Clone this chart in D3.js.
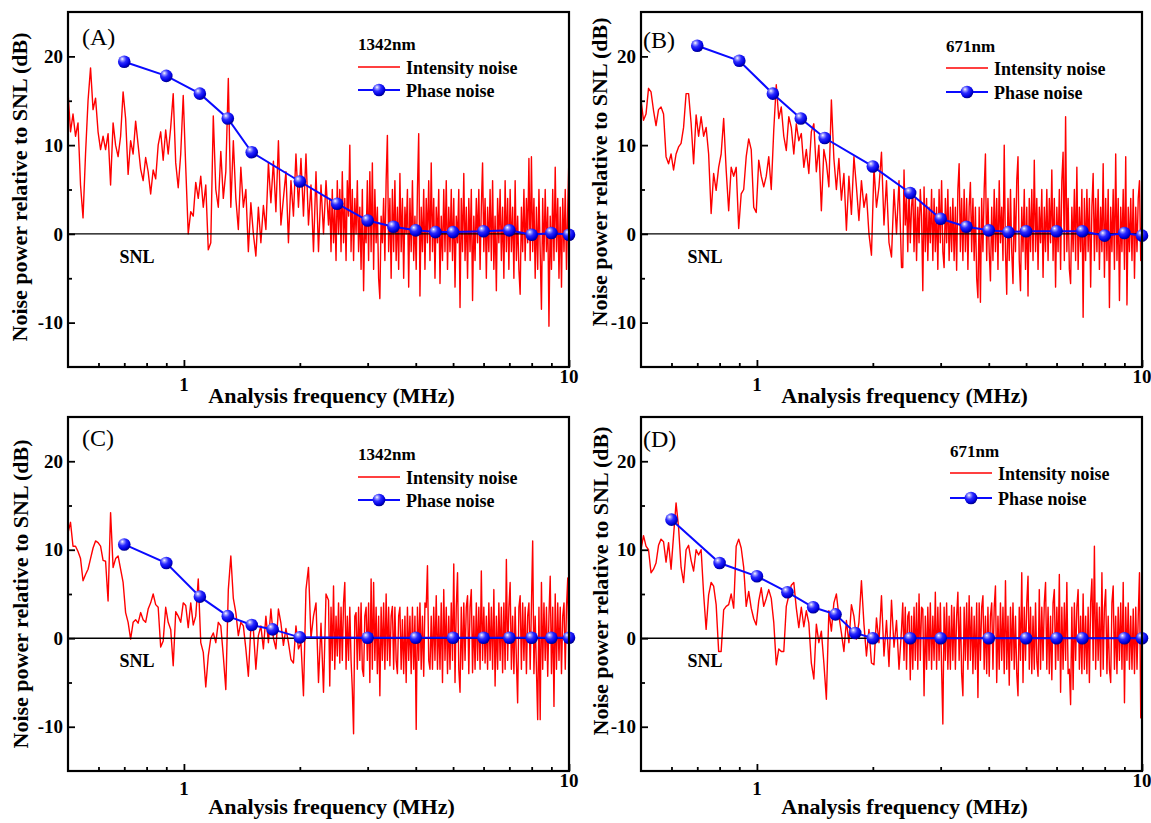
<!DOCTYPE html>
<html>
<head>
<meta charset="utf-8">
<script src="https://cdn.jsdelivr.net/npm/d3@7"></script>
<style>
  html, body { margin: 0; padding: 0; background: #fff; }
  svg text { font-family: "Times New Roman", "Liberation Serif", serif; }
</style>
</head>
<body>
<svg id="chart" width="1151" height="823"></svg>
<script>
// Noise spectra of the 1342 nm / 671 nm lasers, four panels (A)-(D).
// Intensity noise at evenly spaced positions along the log axis:
// every 2nd position below ~2.3 MHz, every position above it (denser trace there).

const F_MIN = 0.5, F_MAX = 10;
const Y_MIN = -15, Y_MAX = 25;
const READ_POSITIONS = 401;
const SPLIT = 209; // first read position of the dense part

const yMajorTicks = [-10, 0, 10, 20];
const yMinorTicks = [-5, 5, 15];
const xMajorTicks = [1, 10];
const xMinorTicks = [0.6, 0.7, 0.8, 0.9, 2, 3, 4, 5, 6, 7, 8, 9];

// read positions (MHz)
const readFreqs = d3.range(READ_POSITIONS).map(i => F_MIN * Math.pow(F_MAX / F_MIN, i / (READ_POSITIONS - 1)));

// ---- (A) 1342nm ----
const intensityA_low = [
  16, 11.5, 13.5, 11, 12.5, 5.5, 1.8, 9, 15, 18.7, 14, 15.3, 11.5, 9.5, 11, 9.5, 11.3, 5.5, 12.5, 10,
  8.7, 11, 16, 13, 6.7, 10.5, 9, 12.7, 10, 7.3, 6, 8.6, 7, 4.5, 7.2, 6.2, 10, 11.5, 8.3, 11.7,
  9, 12, 15.8, 8, 5.2, 9, 15.6, 7.5, 0, 2.5, 2, 5.8, 4, 6.5, 3, 5.5, -1.8, -1, 13.3, 5,
  3, 9.3, 4, 7, 17.5, 3, 10.5, 4, 0.5, 7.5, 3, 5, -2, 3.5, 0, -2.5, 3, -1, 3.2, 0.5,
  8, 3.5, 8.2, 2.5, 10.5, 1, 4, 7, -1, 6, 2, 9, 3, 8.5, 2, 9, 1, 5.5, -2, 7,
  -2, 5.5, 0, 6, 1
];
const intensityA_high = [
  4, -2, 5, -1, 3, -3, 6, 0,      5, -2, 7, -1, 4, -3, 6, 2,
  10, -2, 5, -3, 4, 0, 6, -2,     3, -4, 5, -6.4, 2, -1, 6, -3,
  7, -2, 8, -4, 5, -1, 3, -5,     -7.3, 2, -1, 4, -3, 6, 11.1, -2,
  4, -5, 5, -2, 6, -3, 3, -4,     6.8, -2, 4, -5, 3, 0, 5, -6,
  4, -2, 6, -3, 2, -4, 5, 11.3,   -7, 3, -2, 5, -4, 4, -1, 6,
  -3, 8, -2, 4, -5, 3, -1, 5,     -5.6, 2, -3, 5, -2, 6, -4, 3,
  -2, 5, -3, 4, -6, 2, -1, 5,     -8.3, 4, -2, 6.8, -3, 3, -5, 4,
  -2, 5, -7.5, 2, -3, 4, -1, 5,   -4, 3, 8, -2, 4, -5, 3, -2,
  5, -3, 6, -4, 2, -6.4, 4, -1,   5, -3, 3, -5, 6, -2, 4, -4,
  5, -2, 3, -5, 6, -3, 2, -4,     -6.8, 3, -2, 5, -3, 4, -1, 8.5,
  -3, 8.7, -2, 4, -5, 3, -4, 5,   -2, -8.5, 4, -3, 5, -2, 3, -10.4,
  2, -4, 5, -3, 7.5, -2, 4, -5,   3, -6, 4, -2, 5, -4, 3, 9
];
const phaseFreqA = [0.7, 0.9, 1.1, 1.3, 1.5, 2, 2.5, 3, 3.5, 4, 4.5, 5, 6, 7, 8, 9, 10];
const phaseA = [19.4, 17.8, 15.8, 13.0, 9.2, 5.9, 3.4, 1.5, 0.8, 0.4, 0.2, 0.2, 0.3, 0.4, -0.1, 0.1, -0.1];

// ---- (B) 671nm ----
const intensityB_low = [
  15.1, 12.8, 13.5, 16.4, 16, 13.9, 12.2, 14, 14.3, 13.5, 8.7, 7.9, 9, 7.2, 9, 9.8, 10.2, 12, 15.8, 15.8,
  12.5, 7.9, 13.4, 11, 13.2, 11, 12, 9, 2.3, 6.8, 4.9, 7.5, 9, 13, 7.2, 2.6, 7.5, 6.5, 7.5, 0.6,
  4.5, 5, 8.7, 10.7, 9.5, 3, 2.4, 8.3, 6.5, 5.3, 6.5, 8.7, 5, 11.7, 16.8, 13, 14.3, 11, 9.4, 13.2,
  12, 9, 12.4, 10.5, 11.3, 7.5, 9.5, 6.8, 11.5, 12.4, 7, 10, 2.6, 9.5, 8, 5.3, 15.1, 8.5, 5, 8.5,
  3.8, 6.8, 0.4, 6.5, 2.2, 8.7, 5.3, 1.5, 6, 3, 4.5, 0, -2.4, 7.5, 3, 5.3, 9.2, 1, 6, -1,
  -2.6, 5, 0, 6, -3.8
];
const intensityB_high = [
  -3.8, 7.2, 1, 4, -2, 5, -1, 3,  5, -2, 4, -3, 3, -1, 5, 2,
  -6.4, 5.3, -2, 4, -3, 3, -1, 5, -3, 4, -2, 3, -4, 5, -1, 6,
  -2, -3.8, 4, -1, 5, -3, 3, -2,  4, -3, 3, -4.1, 5, 7.9, -2, 4,
  -3, 5, -2, 4, -4, 3, 5.8, -2,   4, -3, 3, -5, -7.2, 3, -7.7, 4,
  -2, 5, 9, -3, 4, -2, -5.3, 3,   -3, 5, -2, 4, -4, 6, -1, 3,
  -3, 10, -2, -6.8, 4, -3, 5, -2, -5.6, 4, -2, 6, 8.7, -3, -6.4, 3,
  -2, 5, -4, 3, -7, 4, -2, 5,     -3, 8.3, -2, 4, -4, 3, -1, 5,
  -4.9, 3, -2, 5, -3, 4, -1, 7.2, -3, 4, -6, 3, -2, 5, -4, 6,
  9.2, -3, 13.2, -2, 4, -4, -5.6, 3, -2, 5, -3, 7.5, -4, 3, -2, 5,
  -9.4, 4, -3, 5, -2, 4, -6, 3,   6.8, -3, 4, -2, 5, -4, 3, -2,
  7.9, -4.9, 4, -3, 5, -8.3, 3, -2, 5, -4, 9, -3, 4, -7.5, 3, -2,
  5, -4, 8.7, -8, 3, -2, 4, -3,   5, -5, 3, -2, 4, 6, -3, 2
];
const phaseFreqB = [0.7, 0.9, 1.1, 1.3, 1.5, 2, 2.5, 3, 3.5, 4, 4.5, 5, 6, 7, 8, 9, 10];
const phaseB = [21.2, 19.5, 15.8, 13.0, 10.8, 7.6, 4.6, 1.7, 0.8, 0.4, 0.2, 0.3, 0.3, 0.3, -0.2, 0.1, -0.2];

// ---- (C) 1342nm ----
const intensityC_low = [
  11.9, 13.1, 10.4, 10.4, 9.8, 9, 6.5, 7.2, 7.8, 9, 10.2, 11, 10.8, 10.4, 8.8, 8.7, 4.2, 14.2, 8, 9,
  9.3, 7.8, 6.3, 2.9, 1.8, -0.1, 1.8, 2.1, 1.7, 2.9, 2.1, 1.8, 3.3, 4, 5, 3.8, 3.5, -1, -0.3, 3.5,
  1.8, 1, -3.1, 3, 2.5, 1.8, 4, 3.7, 1.2, 4, 1.5, 2.5, 6.7, -0.5, -1.6, -5.5, -2, 0, 0.6, -0.5,
  1.8, 1.4, -2, -5.8, 5.5, 9.3, 4.5, 2.9, 0.3, 1.8, 1.4, -1.2, -4.3, 1.3, 1, -3.5, 0.3, 1.4, -1.2, 2.5,
  -0.5, 3.3, 0, -1.2, 3.3, 1.7, -0.8, 1.1, -0.5, -2.4, -2.8, 1.4, -1.2, -0.5, -6.5, 5.5, 8, 0, 2.5, 4,
  -5, 1.7, -6.1, 5, 4.3
];
const intensityC_high = [
  -5.4, 3.5, -2.5, 5.9, -3.5, 2.5, -2, 4,     -2.8, 3.5, -2.5, 4, 6.3, -3.5, 2.5, -2.5,
  3.5, -2.5, -5.8, -10.8, 2.5, 2.9, -3.5, 3.5, -2.5, 4, -3.5, -4.3, 2.5, 3.5, -2.5, 4,
  -5, 6.7, -3.5, 6.3, -2.5, 3.5, -4, 2.5,     -6.5, 3.5, -2.5, 4, -3.5, 5, -2.5, 3.5,
  -3.1, 2.5, 3.6, -3.5, 3.5, -2.5, -4, 2.5,   3.5, -3.5, 2.1, -4, 2.5, -5, 3.5, -2.5,
  2.5, -4, 3.5, -3.5, 2.5, -10.3, 3.5, -2.5,  4, -3.5, 2.5, -4.3, 4, 3.5, 8.2, -2.5,
  -3.5, 2.5, -3.5, 3.5, -2.5, 4.8, -3.5, 2.5, -3.5, 4, -5, 5.5, -2.5, 3.5, -4, 2.5,
  -3.5, 4, -2.5, 8.4, -5, 3.5, 7.4, -3.5,     -6.1, 3.5, -3.5, 4, -2.5, 3.5, 4.8, -4,
  3.5, 5.5, -3.9, 2.5, -3.5, 4, -2.5, 3.5,    -3.5, 7.6, -2.5, 3.5, -2.8, 2.5, -3.5, 4,
  -2.5, 3.5, -3.5, 5.5, -5.4, 2.5, -3.5, 4,   -2.5, 3.5, -3.9, 4, -3.5, 8.9, -2.5, 3.5,
  6.3, -3.5, 2.5, -4, 3.5, -2.5, -7.3, 3.5,   4.8, -3.5, 4, -2.5, 3.5, -4, 2.5, 4,
  -3.5, 3.5, 11, -4, 2.5, -3.5, -9.2, 3.5,    -9.2, 6.3, -3.5, 4, -2.5, 3.5, -4.3, 2.5,
  7, -4, 3.5, -7.7, 5, -3.5, 4, -2.5,         3.5, -4, 2.5, 4, -3.5, 3.5, 6.8, -3.1
];
const phaseFreqC = [0.7, 0.9, 1.1, 1.3, 1.5, 1.7, 2, 3, 4, 5, 6, 7, 8, 9, 10];
const phaseC = [10.6, 8.5, 4.7, 2.5, 1.5, 1.0, 0.1, 0.05, 0.05, 0.05, 0.05, 0.05, 0.05, 0.05, 0.05];

// ---- (D) 671nm ----
const intensityD_low = [
  10, 11.6, 10.4, 10, 7.4, 7.8, 8.5, 10.5, 11.2, 10.9, 8.6, 10.8, 7.8, 11.6, 15.3, 12.5, 8, 6.3, 10, 10.5,
  8.8, 7.6, 10, 9.4, 10, 5, 1, 4.9, 6.3, 5.9, 3.8, -1.5, -1.5, 3.2, 3.6, 3.8, 5, 3.4, 10.4, 11.2,
  10.2, 8, 3.6, 5.3, 3.4, 2.2, 1.5, 4.2, 5.7, 3.6, 4.5, 5.5, 4.5, 1.8, -3, -1.2, -1.5, -1.5, 3.6, 4.8,
  6, 6.3, 3.4, 1.2, 3.5, 1.3, 3.1, 1.7, -2.8, -4.6, 1.6, -0.5, 0.8, -2.8, -6.9, 3.1, 0.8, 4, 5, 2.5,
  0.6, -1.5, 2, -0.5, 3.8, 2.5, -0.1, 1.8, 6.5, 1.6, -2, 1, -2.8, -3, 2.3, -0.5, 4.8, -2, 2, -3.2,
  4.3, -1, 2, -3.5, 1
];
const intensityD_high = [
  4, -2.5, 3.5, -3.5, 2.5, 3, -4.7, 2.5,      -3.5, 3.5, -2.5, 4, -3.5, 5, -2.5, 3.5,
  3.3, -6.5, 2.5, -3.5, 3.5, -2.5, 4, -3.5,   2.5, -2.5, 5.2, -3.5, 3.5, -2.5, 4, -3.5,
  -9.7, 3.5, -2.5, 4, -3.5, 2.5, -3.5, 3.7,   -2.5, 3.5, -3.5, 2.5, 5.2, -2.5, 3.5, -4,
  -6.5, 3.5, -2.5, 4, -3.5, 4.8, -2.5, 3.5,   -4, 2.5, -3.5, 4, -6.7, 4, -2.5, 3.5,
  4.8, -3.5, 2.5, -4, 3.5, -4.3, 2.5, 4,      -3.5, 3.5, 5.9, -5, 2.5, -3.5, 4, -2.5,
  3.5, -4, 6.5, -3.5, 2.5, -5.3, 3.5, -2.5,   4, -3.5, 2.5, -4, -6.5, 3.5, -2.5, 7.4,
  -5, 3.5, -2.5, 4, 7, -3.5, 3.5, -4,         2.5, -3.5, 4, -2.5, -4.3, 5.5, -3.5, 3.5,
  -2.5, 4, 6.3, -3.5, 3.5, -4, 2.5, -4.7,     4, 5.5, -3.5, 3.5, -2.5, 7.2, -6.1, 3.5,
  -3.5, 4, -2.5, 6.3, -4, -3.5, -7.5, 3.5,    -5.8, 4, -2.5, 3.5, 5.5, -3.5, 2.5, -4,
  5, -3.5, 2.5, -4, 3.5, -5, 4, 6.7,          -2.5, 10.4, -3.5, 4, -2.5, 3.5, -4.3, 7.4,
  -3.5, 3.5, 5.5, -4, 2.5, -3.5, -5, 4,       5.9, -3.5, 2.5, -4, 3.5, -2.5, 4, -3.5,
  6.3, -7.3, 3.5, -2.5, 4, -3.5, 2.5, -3.5,   3.3, -4, 3.5, -3.5, 2.5, 7.4, -9, -3.5
];
const phaseFreqD = [0.6, 0.8, 1.0, 1.2, 1.4, 1.6, 1.8, 2, 2.5, 3, 4, 5, 6, 7, 9, 10];
const phaseD = [13.4, 8.5, 7.0, 5.2, 3.5, 2.7, 0.6, 0, 0, 0, 0, 0, 0, 0, 0, 0];

const legendTitles = ['1342nm', '671nm', '1342nm', '671nm'];
const panelLetters = ['(A)', '(B)', '(C)', '(D)'];

// layout of each panel (pixels)
const panels = [
  { letter: panelLetters[0], title: legendTitles[0], low: intensityA_low, high: intensityA_high, pf: phaseFreqA, pv: phaseA,
    left: 68, top: 12, bottom: 367, lg: { x: 290, t: 38, r: 55, p: 78 }, ttl: { yx: 27, yc: 187 }, let: [14, 33] },
  { letter: panelLetters[1], title: legendTitles[1], low: intensityB_low, high: intensityB_high, pf: phaseFreqB, pv: phaseB,
    left: 641, top: 12, bottom: 367, lg: { x: 305, t: 40, r: 56, p: 80 }, ttl: { yx: 607, yc: 172 }, let: [2, 36] },
  { letter: panelLetters[2], title: legendTitles[2], low: intensityC_low, high: intensityC_high, pf: phaseFreqC, pv: phaseC,
    left: 68, top: 417, bottom: 771, lg: { x: 290, t: 43, r: 60, p: 83 }, ttl: { yx: 28, yc: 594 }, let: [14, 29] },
  { letter: panelLetters[3], title: legendTitles[3], low: intensityD_low, high: intensityD_high, pf: phaseFreqD, pv: phaseD,
    left: 641, top: 417, bottom: 771, lg: { x: 309, t: 40, r: 56, p: 81 }, ttl: { yx: 608, yc: 581 }, let: [2, 30] },
];
const PLOT_W = 501;

const svg = d3.select('#chart');

// shaded ball for the phase-noise markers
const grad = svg.append('defs').append('radialGradient')
  .attr('id', 'ball').attr('cx', '38%').attr('cy', '32%').attr('r', '68%')
  .attr('fx', '34%').attr('fy', '28%');
[['0%', '#ffffff'], ['18%', '#9a9aff'], ['45%', '#2a2aff'], ['80%', '#0000e0'], ['100%', '#00008a']]
  .forEach(([o, c]) => grad.append('stop').attr('offset', o).attr('stop-color', c));

panels.forEach((p, k) => {
  const right = p.left + PLOT_W;
  const x = d3.scaleLog().domain([F_MIN, F_MAX]).range([p.left, right]);
  const y = d3.scaleLinear().domain([Y_MIN, Y_MAX]).range([p.bottom, p.top]);
  const g = svg.append('g');

  g.append('clipPath').attr('id', 'clip' + k)
    .append('rect').attr('x', p.left).attr('y', p.top)
    .attr('width', PLOT_W).attr('height', p.bottom - p.top);

  // intensity noise
  const series = p.low.map((v, i) => [readFreqs[2 * i], v])
    .concat(p.high.map((v, j) => [readFreqs[SPLIT + j], v]));
  g.append('path').datum(series)
    .attr('clip-path', `url(#clip${k})`)
    .attr('fill', 'none').attr('stroke', '#ff0000').attr('stroke-width', 1.4)
    .attr('stroke-linejoin', 'round')
    .attr('d', d3.line().x(d => x(d[0])).y(d => y(d[1])));

  // SNL
  g.append('line')
    .attr('x1', p.left).attr('x2', right).attr('y1', y(0)).attr('y2', y(0))
    .attr('stroke', '#000').attr('stroke-width', 1.4);

  // phase noise
  const phase = p.pf.map((f, i) => [f, p.pv[i]]);
  g.append('path').datum(phase)
    .attr('fill', 'none').attr('stroke', '#0a0aff').attr('stroke-width', 2)
    .attr('d', d3.line().x(d => x(d[0])).y(d => y(d[1])));
  g.selectAll('circle.pt').data(phase).join('circle')
    .attr('class', 'pt')
    .attr('cx', d => x(d[0])).attr('cy', d => y(d[1])).attr('r', 6.3)
    .attr('fill', 'url(#ball)');

  // axes: inward ticks, labels only on major ticks
  const yAxis = g.append('g').attr('transform', `translate(${p.left},0)`)
    .call(d3.axisRight(y).tickValues(yMajorTicks).tickSize(7).tickFormat(''));
  yAxis.append('g').call(d3.axisRight(y).tickValues(yMinorTicks).tickSize(4).tickFormat(''));
  yAxis.selectAll('.domain').remove();
  yAxis.selectAll('line').attr('stroke', '#000').attr('stroke-width', 1.8);

  g.selectAll('text.ytick').data(yMajorTicks).join('text')
    .attr('class', 'ytick')
    .attr('x', p.left - 5).attr('y', d => y(d)).attr('dy', '0.35em')
    .attr('text-anchor', 'end').attr('font-weight', 'bold').attr('font-size', 19)
    .text(d => d);

  const xAxis = g.append('g').attr('transform', `translate(0,${p.bottom})`)
    .call(d3.axisTop(x).tickValues(xMajorTicks).tickSize(7).tickFormat(''));
  xAxis.append('g').call(d3.axisTop(x).tickValues(xMinorTicks).tickSize(4).tickFormat(''));
  xAxis.selectAll('.domain').remove();
  xAxis.selectAll('line').attr('stroke', '#000').attr('stroke-width', 1.8);

  g.selectAll('text.xtick').data(xMajorTicks).join('text')
    .attr('class', 'xtick')
    .attr('x', d => x(d)).attr('y', d => p.bottom + (d === 1 ? 24 : 16))
    .attr('text-anchor', 'middle').attr('font-weight', 'bold').attr('font-size', 19)
    .text(d => d);

  // frame
  g.append('rect')
    .attr('x', p.left).attr('y', p.top).attr('width', PLOT_W).attr('height', p.bottom - p.top)
    .attr('fill', 'none').attr('stroke', '#000').attr('stroke-width', 2.2);

  // titles
  g.append('text')
    .attr('x', p.left + PLOT_W / 2 + 13).attr('y', p.bottom + (k < 2 ? 36 : 43))
    .attr('text-anchor', 'middle').attr('font-weight', 'bold').attr('font-size', 22)
    .text('Analysis frequency (MHz)');
  g.append('text')
    .attr('transform', `translate(${p.ttl.yx},${p.ttl.yc}) rotate(-90)`)
    .attr('text-anchor', 'middle').attr('font-weight', 'bold').attr('font-size', 22)
    .text('Noise power relative to SNL (dB)');

  g.append('text')
    .attr('x', p.left + p.let[0]).attr('y', p.top + p.let[1])
    .attr('font-size', 24).text(p.letter);

  g.append('text')
    .attr('x', x(k % 2 === 0 ? 0.68 : 0.66)).attr('y', y(-3.3))
    .attr('font-weight', 'bold').attr('font-size', 18).text('SNL');

  // legend
  const lx = p.left + p.lg.x;
  g.append('text').attr('x', lx).attr('y', p.top + p.lg.t)
    .attr('font-weight', 'bold').attr('font-size', 17).text(p.title);
  g.append('line').attr('x1', lx).attr('x2', lx + 42)
    .attr('y1', p.top + p.lg.r).attr('y2', p.top + p.lg.r)
    .attr('stroke', '#ff0000').attr('stroke-width', 1.6);
  g.append('text').attr('x', lx + 48).attr('y', p.top + p.lg.r + 7)
    .attr('font-weight', 'bold').attr('font-size', 18).text('Intensity noise');
  g.append('line').attr('x1', lx).attr('x2', lx + 42)
    .attr('y1', p.top + p.lg.p).attr('y2', p.top + p.lg.p)
    .attr('stroke', '#0a0aff').attr('stroke-width', 2);
  g.append('circle').attr('cx', lx + 21).attr('cy', p.top + p.lg.p).attr('r', 6.3)
    .attr('fill', 'url(#ball)');
  g.append('text').attr('x', lx + 48).attr('y', p.top + p.lg.p + 7)
    .attr('font-weight', 'bold').attr('font-size', 18).text('Phase noise');
});
</script>
</body>
</html>
